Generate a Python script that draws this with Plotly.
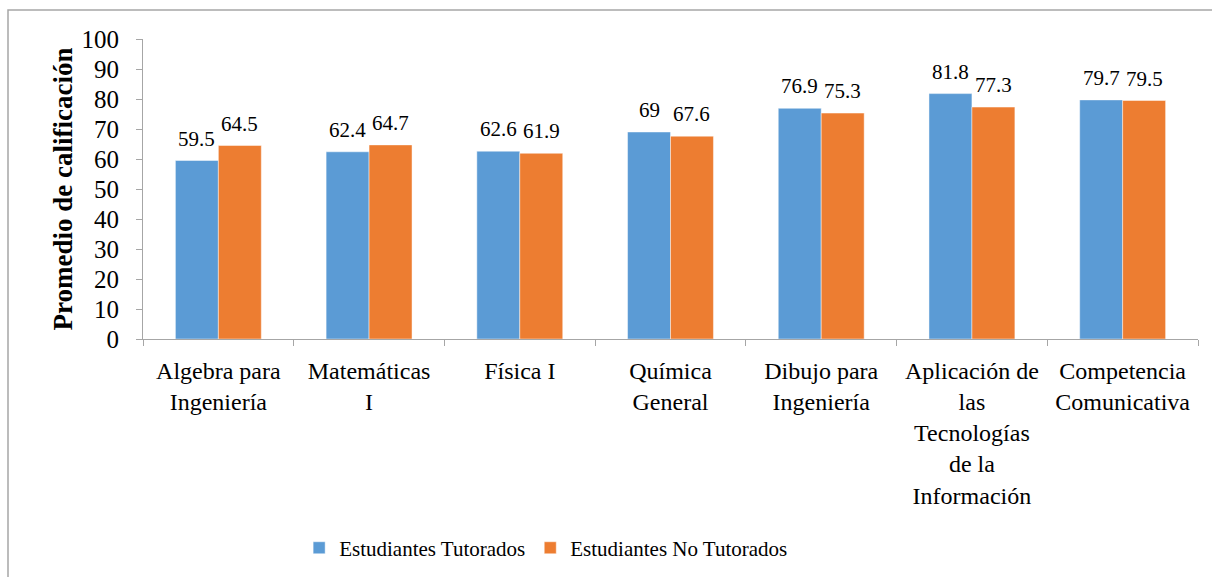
import plotly.graph_objects as go

# Average grade per course, tutored vs. non-tutored students
categories = [
    "Algebra para<br>Ingeniería",
    "Matemáticas<br>I",
    "Física I",
    "Química<br>General",
    "Dibujo para<br>Ingeniería",
    "Aplicación de<br>las<br>Tecnologías<br>de la<br>Información",
    "Competencia<br>Comunicativa",
]
tutorados = [59.5, 62.4, 62.6, 69, 76.9, 81.8, 79.7]
no_tutorados = [64.5, 64.7, 61.9, 67.6, 75.3, 77.3, 79.5]

series_names = ["Estudiantes Tutorados", "Estudiantes No Tutorados"]
colors = ["#5B9BD5", "#ED7D31"]

W, H = 1212, 577
ML, MR, MT, MB = 143, 14, 39, 238
BARGAP = 0.43
FONT = "Liberation Serif"

fig = go.Figure()
for name, vals, col in zip(series_names, [tutorados, no_tutorados], colors):
    fig.add_trace(go.Bar(
        x=categories, y=vals, name=name,
        marker=dict(color=col, line=dict(color="rgba(255,255,255,0.45)", width=1)),
    ))

# value labels above each bar, offset to the bar's position within the group
plot_w = W - ML - MR
bar_w = plot_w / len(categories) * (1 - BARGAP) / 2
annotations = []
for vals, shift in [(tutorados, -bar_w / 2), (no_tutorados, bar_w / 2)]:
    for cat, v in zip(categories, vals):
        annotations.append(dict(
            x=cat, y=v, xref="x", yref="y", text=f"{v:g}", showarrow=False,
            xshift=shift, yshift=8, yanchor="bottom",
            font=dict(family=FONT, size=21, color="#000000"),
        ))

fig.update_layout(
    width=W, height=H,
    margin=dict(l=ML, r=MR, t=MT, b=MB, autoexpand=False),
    paper_bgcolor="white", plot_bgcolor="white",
    barmode="group", bargap=BARGAP, bargroupgap=0,
    font=dict(family=FONT, size=24, color="#000000"),
    annotations=annotations,
    showlegend=True,
    legend=dict(
        orientation="h", x=0.148, xanchor="left", y=-0.697, yanchor="middle",
        font=dict(family=FONT, size=21, color="#000000"),
        itemwidth=30, tracegroupgap=0, bgcolor="rgba(0,0,0,0)",
    ),
    shapes=[dict(
        type="rect", xref="paper", yref="paper",
        x0=(8 - ML) / plot_w, x1=(W + 20 - ML) / plot_w,
        y0=-(H + 20 - (H - MB)) / (H - MT - MB), y1=1 + (MT - 10) / (H - MT - MB),
        line=dict(color="#A6A6A6", width=1.5), fillcolor="rgba(0,0,0,0)",
        layer="below",
    )],
)

fig.update_xaxes(
    type="category", showline=True, linecolor="#A6A6A6", linewidth=1,
    ticks="outside", tickson="boundaries", ticklen=6, tickcolor="#A6A6A6",
    tickfont=dict(family=FONT, size=24, color="#000000"),
    ticklabelstandoff=10,
    showgrid=False, zeroline=False,
)
fig.update_yaxes(
    range=[0, 100], dtick=10, tick0=0,
    showline=True, linecolor="#A6A6A6", linewidth=1,
    ticks="outside", ticklen=6, tickcolor="#A6A6A6",
    tickfont=dict(family=FONT, size=25, color="#000000"),
    ticklabelstandoff=12,
    showgrid=False, zeroline=False,
    title=dict(text="<b>Promedio de calificación</b>", standoff=1,
               font=dict(family=FONT, size=27, color="#000000")),
)

fig.write_html("out.html")
